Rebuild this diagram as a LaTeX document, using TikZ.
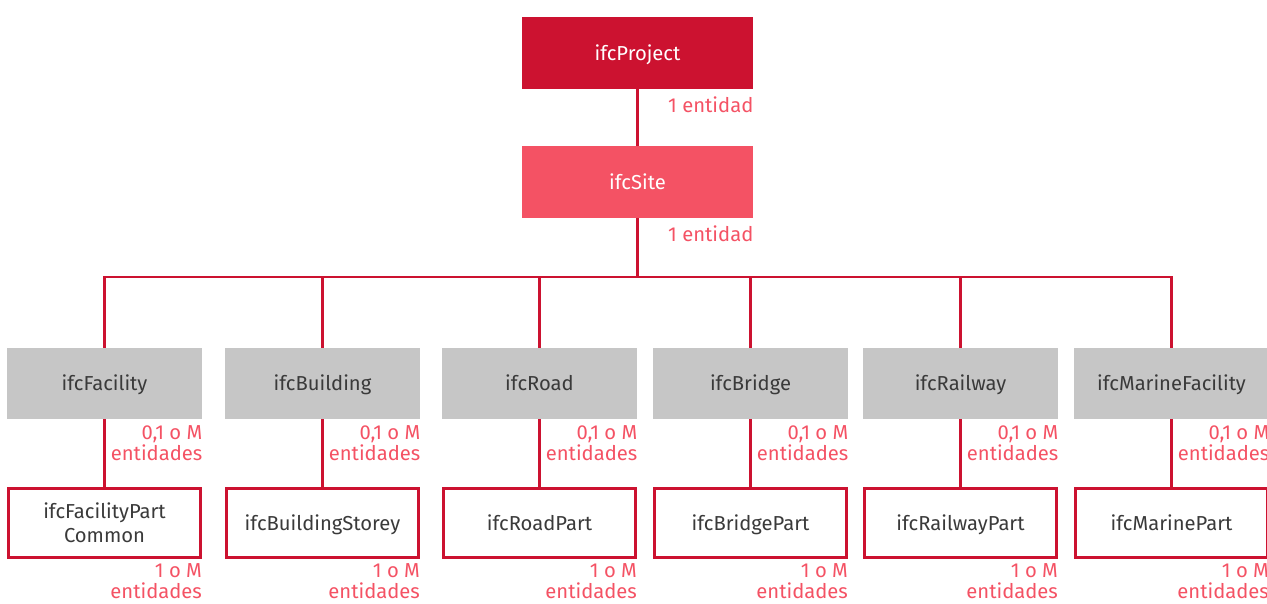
\documentclass[tikz,border=0pt]{standalone}
\usepackage{fontspec}
\setmainfont{Fira Sans}
\usetikzlibrary{positioning}

\definecolor{ifcred}{HTML}{CC1230}
\definecolor{ifcpink}{HTML}{F45264}
\definecolor{ifcgray}{HTML}{C6C6C6}
\definecolor{ifctext}{HTML}{3A3A3A}

\begin{document}
\begin{tikzpicture}[
    font=\fontsize{11.5}{13}\selectfont,
    topbox/.style={fill=#1, text=white, minimum width=4.62cm, minimum height=1.44cm, inner sep=0pt,
        text height=1.8ex, text depth=0.25ex},
    facbox/.style={fill=ifcgray, text=ifctext, minimum width=3.9cm, minimum height=1.42cm, inner sep=0pt,
        text height=1.8ex, text depth=0.25ex},
    partbox/.style={draw=ifcred, line width=1.6pt, fill=white, text=ifctext,
        minimum width=3.84cm, minimum height=1.38cm, inner sep=0pt,
        text height=1.8ex, text depth=0.25ex, font=\fontsize{11.5}{13.8}\selectfont},
    card/.style={text=ifcpink, align=right, anchor=north east, inner sep=0pt, outer sep=0pt,
        font=\fontsize{11.5}{12}\selectfont},
    link/.style={draw=ifcred, line width=1.4pt}
  ]
            \useasboundingbox (0,0) rectangle (25.34,12.06);

            \node[topbox=ifcred] (Project) at (12.75, 11.0) {ifcProject};
            \node[topbox=ifcpink] (Site) at (12.75, 8.42) {ifcSite};
            \coordinate (Bus) at (12.75, 6.52);

            \node[facbox] (Facility) at (2.09, 4.39) {ifcFacility};
            \node[facbox] (Building) at (6.45, 4.39) {ifcBuilding};
            \node[facbox] (Road) at (10.79, 4.39) {ifcRoad};
            \node[facbox] (Bridge) at (15.01, 4.39) {ifcBridge};
            \node[facbox] (Railway) at (19.21, 4.39) {ifcRailway};
            \node[facbox] (Marine) at (23.43, 4.39) {ifcMarineFacility};

            \node[partbox, align=center, text height=, text depth=] (FacilityPart) at (2.09, 1.6) {ifcFacilityPart\\Common};
            \node[partbox] (BuildingPart) at (6.45, 1.6) {ifcBuildingStorey};
            \node[partbox] (RoadPart) at (10.79, 1.6) {ifcRoadPart};
            \node[partbox] (BridgePart) at (15.01, 1.6) {ifcBridgePart};
            \node[partbox] (RailwayPart) at (19.21, 1.6) {ifcRailwayPart};
            \node[partbox] (MarinePart) at (23.43, 1.6) {ifcMarinePart};

            \draw[link] (Project) to (Site);
            \draw[link] (Site.south) to (Bus);
            \foreach \fac in {Facility,Building,Road,Bridge,Railway,Marine}
                \draw[link] (Bus) -| (\fac.north);
            \draw[link] (Facility) to (FacilityPart);
            \draw[link] (Building) to (BuildingPart);
            \draw[link] (Road) to (RoadPart);
            \draw[link] (Bridge) to (BridgePart);
            \draw[link] (Railway) to (RailwayPart);
            \draw[link] (Marine) to (MarinePart);

            \node[card] at ([yshift=-4pt]Project.south east) {1 entidad};
            \node[card] at ([yshift=-4pt]Site.south east) {1 entidad};
            \foreach \fac in {Facility,Building,Road,Bridge,Railway,Marine}
                \node[card] at ([yshift=-3.5pt]\fac.south east) {0,1 o M\\entidades};
            \foreach \part in {FacilityPart,BuildingPart,RoadPart,BridgePart,RailwayPart,MarinePart}
                \node[card] at ([yshift=-2.5pt]\part.south east) {1 o M\\entidades};

        \end{tikzpicture}
\end{document}
